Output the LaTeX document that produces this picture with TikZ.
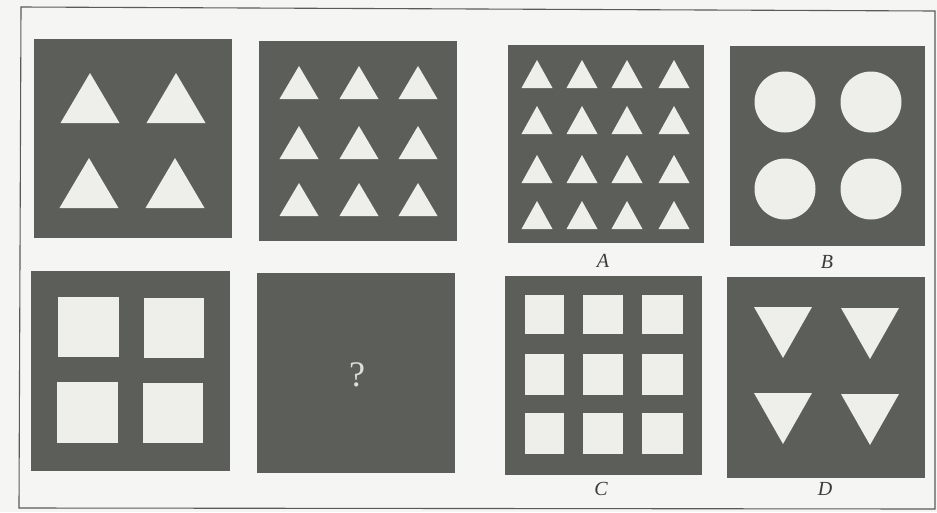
\documentclass[tikz,border=0pt]{standalone}
\usepackage{fontspec}
\setmainfont{Liberation Serif}
\begin{document}
\begin{tikzpicture}[x=1pt,y=-1pt,
  panel/.style={fill=panelgray,draw=none},
  hole/.style={fill=holegray,draw=none},
  lbl/.style={font=\fontsize{20}{24}\selectfont\itshape,text=labelgray,inner sep=0pt}]
\definecolor{panelgray}{HTML}{5C5E5A}
\definecolor{holegray}{HTML}{EEEEEB}
\definecolor{bggray}{HTML}{F5F5F3}
\definecolor{labelgray}{HTML}{3A3A3A}
\definecolor{framegray}{HTML}{5A5A5A}
\useasboundingbox (0,0) rectangle (937,512);
\fill[bggray] (0,0) rectangle (937,512);
\draw[framegray,line width=1.1pt] (21,7) -- (935,11) -- (935,509) -- (19,508) -- cycle;
% panel 1: four triangles
\fill[panel] (34,39) rectangle (232,238);
\foreach \cx/\by in {90/123,176/123,89/208,175/208}
  \fill[hole] (\cx-29.5,\by) -- (\cx,\by-50) -- (\cx+29.5,\by) -- cycle;
% panel 2: nine triangles
\fill[panel] (259,41) rectangle (457,241);
\foreach \cx in {299,359,418}
  \foreach \by in {99,159,216}
    \fill[hole] (\cx-19.5,\by) -- (\cx,\by-33) -- (\cx+19.5,\by) -- cycle;
% panel A: sixteen triangles
\fill[panel] (508,45) rectangle (704,243);
\foreach \cx in {537,582,627,674}
  \foreach \by in {88,134,183,229}
    \fill[hole] (\cx-15.5,\by) -- (\cx,\by-28) -- (\cx+15.5,\by) -- cycle;
\node[lbl] (la) at (603,261) {A};
% panel B: four circles
\fill[panel] (730,46) rectangle (925,246);
\foreach \cx in {785,871}
  \foreach \cy in {102,189}
    \fill[hole] (\cx,\cy) circle (30.5);
\node[lbl] (lb) at (827,262) {B};
% panel 4 squares
\fill[panel] (31,271) rectangle (230,471);
\fill[hole] (58,297) rectangle (119,357);
\fill[hole] (144,298) rectangle (204,358);
\fill[hole] (57,382) rectangle (118,443);
\fill[hole] (143,383) rectangle (203,443);
% panel ?
\fill[panel] (257,273) rectangle (455,473);
\node[font=\fontsize{36}{40}\selectfont,text=holegray!88!panelgray,inner sep=0pt] (q) at (357,375) {?};
% panel C: nine squares
\fill[panel] (505,276) rectangle (702,475);
\foreach \x/\w in {525/39,583/40,642/41}
  \foreach \y/\h in {295/39,354/41,413/41}
    \fill[hole] (\x,\y) rectangle ++(\w,\h);
\node[lbl] (lc) at (601,489) {C};
% panel D: four inverted triangles
\fill[panel] (727,277) rectangle (925,478);
\foreach \cx/\ty in {783/307,870/308,783/393,870/394}
  \fill[hole] (\cx-29,\ty) -- (\cx,\ty+51) -- (\cx+29,\ty) -- cycle;
\node[lbl] (ld) at (825,489) {D};
\end{tikzpicture}
\end{document}
